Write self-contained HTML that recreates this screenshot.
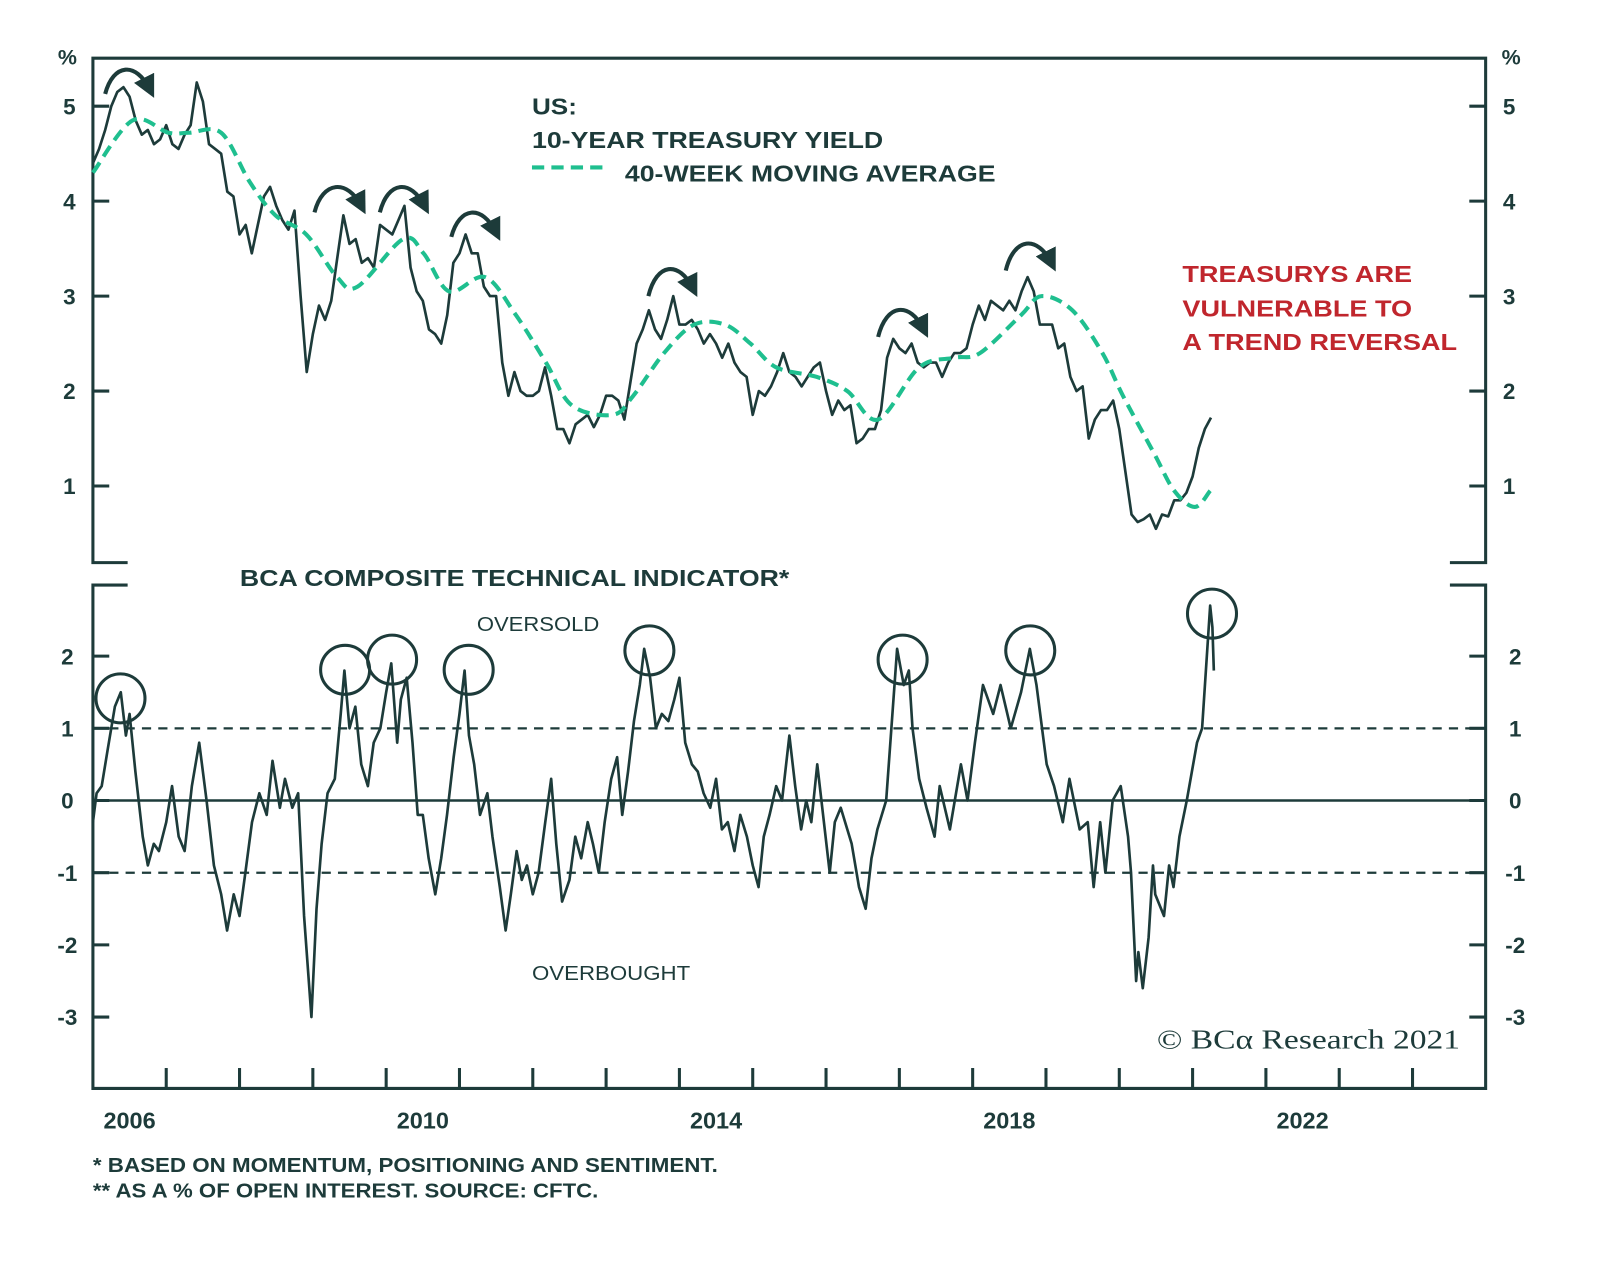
<!DOCTYPE html>
<html><head><meta charset="utf-8"><style>
html,body{margin:0;padding:0;background:#fff}
svg{display:block}
text{font-family:"Liberation Sans",Arial,sans-serif;fill:#1d3b3a}
</style></head><body>
<svg id="chart" width="1600" height="1261" viewBox="0 0 1567 1235" preserveAspectRatio="none" xmlns="http://www.w3.org/2000/svg">
<defs>
<marker id="ah" viewBox="0 0 10 10" refX="6" refY="5" markerWidth="5.5" markerHeight="5.5" orient="auto"><path d="M0,0 L10,5 L0,10 z" fill="#1d3b3a"/></marker>
</defs>
<rect width="1567" height="1235" fill="#fff"/>
<g id="frame" stroke="#1d3b3a" stroke-width="3" fill="none"></g>
<g id="ticks"></g>
<g id="marks"></g>
<g id="annot"></g>
<text x="521" y="112" font-size="23" font-weight="bold" textLength="44" lengthAdjust="spacingAndGlyphs">US:</text>
<text x="521" y="145" font-size="23" font-weight="bold" textLength="344" lengthAdjust="spacingAndGlyphs">10-YEAR TREASURY YIELD</text>
<line x1="521" y1="164" x2="592" y2="164" stroke="#1fbf8f" stroke-width="4" stroke-dasharray="12,7"/>
<text x="612" y="178" font-size="23" font-weight="bold" textLength="363" lengthAdjust="spacingAndGlyphs">40-WEEK MOVING AVERAGE</text>
<text x="1158" y="276" font-size="23" font-weight="bold" textLength="225" lengthAdjust="spacingAndGlyphs" style="fill:#c0262d">TREASURYS ARE</text>
<text x="1158" y="310" font-size="23" font-weight="bold" textLength="225" lengthAdjust="spacingAndGlyphs" style="fill:#c0262d">VULNERABLE TO</text>
<text x="1158" y="343" font-size="23" font-weight="bold" textLength="269" lengthAdjust="spacingAndGlyphs" style="fill:#c0262d">A TREND REVERSAL</text>
<text x="235" y="574" font-size="23" font-weight="bold" textLength="538" lengthAdjust="spacingAndGlyphs">BCA COMPOSITE TECHNICAL INDICATOR*</text>
<text x="467" y="618" font-size="20" textLength="120" lengthAdjust="spacingAndGlyphs">OVERSOLD</text>
<text x="521" y="960" font-size="20" textLength="155" lengthAdjust="spacingAndGlyphs">OVERBOUGHT</text>
<text x="1133" y="1027" font-size="27" textLength="297" lengthAdjust="spacingAndGlyphs" style="font-family:'Liberation Serif',serif">© BCα Research 2021</text>
<text x="91" y="1148" font-size="20" font-weight="bold" textLength="612" lengthAdjust="spacingAndGlyphs">*  BASED ON MOMENTUM, POSITIONING AND SENTIMENT.</text>
<text x="91" y="1173" font-size="20" font-weight="bold" textLength="495" lengthAdjust="spacingAndGlyphs">** AS A % OF OPEN INTEREST. SOURCE: CFTC.</text>
</svg>
<script>
const yieldStart = 2006;
const yieldValues = [
4.4,4.55,4.75,5.0,5.15,5.2,5.1,4.85,4.7,4.75,4.6,4.65,
4.8,4.6,4.55,4.7,4.8,5.25,5.05,4.6,4.55,4.5,4.1,4.05,
3.65,3.75,3.45,3.75,4.05,4.15,3.95,3.8,3.7,3.9,3.0,2.2,
2.6,2.9,2.75,2.95,3.4,3.85,3.55,3.6,3.35,3.4,3.3,3.75,
3.7,3.65,3.8,3.95,3.3,3.05,2.95,2.65,2.6,2.5,2.8,3.35,
3.45,3.65,3.45,3.45,3.1,3.0,3.0,2.3,1.95,2.2,2.0,1.95,
1.95,2.0,2.25,1.95,1.6,1.6,1.45,1.65,1.7,1.75,1.62,1.75,
1.95,1.95,1.9,1.7,2.1,2.5,2.65,2.85,2.65,2.55,2.75,3.0,
2.7,2.7,2.75,2.65,2.5,2.6,2.5,2.35,2.5,2.3,2.2,2.15,
1.75,2.0,1.95,2.05,2.2,2.4,2.2,2.15,2.05,2.15,2.25,2.3,
2.0,1.75,1.9,1.8,1.85,1.45,1.5,1.6,1.6,1.8,2.35,2.55,
2.45,2.4,2.5,2.3,2.25,2.3,2.3,2.15,2.3,2.4,2.4,2.45,
2.7,2.9,2.75,2.95,2.9,2.85,2.95,2.85,3.05,3.2,3.05,2.7,
2.7,2.7,2.45,2.5,2.15,2.0,2.05,1.5,1.7,1.8,1.8,1.9,
1.6,1.15,0.7,0.62,0.65,0.7,0.55,0.7,0.68,0.85,0.85,0.93,
1.1,1.4,1.6,1.72];
const maDates = [2006.0,2006.54,2007.03,2007.31,2007.75,2008.14,2008.49,2008.91,2009.33,2009.61,2010.23,2010.51,2010.86,2011.35,2011.77,2012.18,2012.53,2013.09,2013.37,2013.79,2014.2,2014.62,2014.97,2015.32,2015.87,2016.29,2016.71,2017.27,2017.75,2018.1,2018.66,2018.94,2019.36,2019.77,2020.05,2020.47,2020.75,2021.03,2021.24];
const maValues = [4.3,4.85,4.72,4.72,4.72,4.2,3.85,3.65,3.2,3.1,3.6,3.45,3.05,3.2,2.8,2.3,1.85,1.75,1.95,2.4,2.7,2.7,2.5,2.25,2.15,2.0,1.7,2.25,2.35,2.4,2.8,3.0,2.85,2.4,1.95,1.35,0.95,0.78,0.95];
const indDates = [2006.0,2006.05,2006.12,2006.2,2006.3,2006.38,2006.45,2006.5,2006.58,2006.68,2006.75,2006.83,2006.9,2007.0,2007.08,2007.17,2007.25,2007.35,2007.45,2007.55,2007.65,2007.75,2007.83,2007.92,2008.0,2008.08,2008.17,2008.27,2008.37,2008.45,2008.55,2008.62,2008.72,2008.8,2008.88,2008.98,2009.05,2009.12,2009.2,2009.3,2009.38,2009.43,2009.5,2009.58,2009.66,2009.75,2009.83,2009.92,2010.0,2010.07,2010.15,2010.2,2010.28,2010.36,2010.43,2010.5,2010.58,2010.67,2010.75,2010.83,2010.92,2011.0,2011.07,2011.13,2011.2,2011.28,2011.38,2011.45,2011.55,2011.63,2011.7,2011.78,2011.85,2011.92,2012.0,2012.08,2012.17,2012.25,2012.32,2012.4,2012.5,2012.58,2012.66,2012.75,2012.82,2012.9,2012.98,2013.07,2013.15,2013.22,2013.3,2013.38,2013.46,2013.52,2013.6,2013.68,2013.76,2013.85,2013.93,2014.0,2014.08,2014.17,2014.25,2014.33,2014.42,2014.5,2014.58,2014.66,2014.75,2014.83,2014.92,2015.0,2015.08,2015.15,2015.23,2015.32,2015.4,2015.5,2015.58,2015.66,2015.73,2015.8,2015.88,2015.96,2016.05,2016.12,2016.2,2016.35,2016.45,2016.54,2016.62,2016.7,2016.82,2016.97,2017.06,2017.13,2017.18,2017.27,2017.37,2017.48,2017.55,2017.69,2017.84,2017.93,2018.03,2018.14,2018.28,2018.38,2018.52,2018.66,2018.78,2018.87,2019.01,2019.11,2019.23,2019.32,2019.46,2019.57,2019.65,2019.74,2019.81,2019.91,2020.02,2020.12,2020.16,2020.23,2020.26,2020.32,2020.4,2020.46,2020.49,2020.61,2020.68,2020.74,2020.82,2020.92,2020.99,2021.06,2021.13,2021.24,2021.27,2021.29];
const indValues = [-0.3,0.1,0.2,0.7,1.3,1.5,0.9,1.2,0.4,-0.5,-0.9,-0.6,-0.7,-0.3,0.2,-0.5,-0.7,0.2,0.8,0.0,-0.9,-1.3,-1.8,-1.3,-1.6,-1.0,-0.3,0.1,-0.2,0.55,-0.1,0.3,-0.1,0.1,-1.6,-3.0,-1.5,-0.6,0.1,0.3,1.2,1.8,1.0,1.3,0.5,0.2,0.8,1.0,1.5,1.9,0.8,1.4,1.7,0.8,-0.2,-0.2,-0.8,-1.3,-0.8,-0.2,0.6,1.2,1.8,0.9,0.5,-0.2,0.1,-0.5,-1.2,-1.8,-1.3,-0.7,-1.1,-0.9,-1.3,-1.0,-0.3,0.3,-0.6,-1.4,-1.1,-0.5,-0.8,-0.3,-0.6,-1.0,-0.3,0.3,0.6,-0.2,0.4,1.1,1.6,2.1,1.7,1.0,1.2,1.1,1.4,1.7,0.8,0.5,0.4,0.1,-0.1,0.3,-0.4,-0.3,-0.7,-0.2,-0.5,-0.9,-1.2,-0.5,-0.2,0.2,0.0,0.9,0.2,-0.4,0.0,-0.3,0.5,-0.2,-1.0,-0.3,-0.1,-0.6,-1.2,-1.5,-0.8,-0.4,0.0,2.1,1.6,1.8,1.0,0.3,-0.1,-0.5,0.2,-0.4,0.5,0.0,0.8,1.6,1.2,1.6,1.0,1.5,2.1,1.6,0.5,0.2,-0.3,0.3,-0.4,-0.3,-1.2,-0.3,-1.0,0.0,0.2,-0.5,-1.0,-2.5,-2.1,-2.6,-1.9,-0.9,-1.3,-1.6,-0.9,-1.2,-0.5,0.0,0.4,0.8,1.0,2.7,2.4,1.8];
const topTicks = [1,2,3,4,5];
const botTicks = [-3,-2,-1,0,1,2];
const yearLabels = [2006,2010,2014,2018,2022];

const NS='http://www.w3.org/2000/svg';
const xS = t => 91 + (t - 2006) * 71.8;
const yT = v => 104 + (5 - v) * 93;
const yB = v => 784 - v * 70.7;
function mk(tag, attrs, parent){const e=document.createElementNS(NS,tag);for(const k in attrs)e.setAttribute(k,attrs[k]);parent.appendChild(e);return e;}
const frame=document.getElementById('frame'), ticks=document.getElementById('ticks'), marks=document.getElementById('marks'), annot=document.getElementById('annot');

let fp = mk('path',{d:'M125,551 H91 V57 H1455 V551 H1420 M125,573 H91 V1066 H1455 V573 H1420'},frame);



topTicks.forEach(v=>{
  const y=yT(v);
  let l=mk('path',{d:`M91,${y} H107 M1439,${y} H1455`,stroke:'#1d3b3a','stroke-width':3},ticks);
  
  
  let a=mk('text',{x:68,y:y+8,'font-size':22,'font-weight':'bold','text-anchor':'middle'},ticks); a.textContent=v;
  
  
  let b=mk('text',{x:1478,y:y+8,'font-size':22,'font-weight':'bold','text-anchor':'middle'},ticks); b.textContent=v;
  
  
});
['66','1480'].forEach(x=>{let p=mk('text',{x:x,y:63,'font-size':21,'font-weight':'bold','text-anchor':'middle'},ticks);p.textContent='%';
  
  });
botTicks.forEach(v=>{
  const y=yB(v);
  let l=mk('path',{d:`M91,${y} H107 M1439,${y} H1455`,stroke:'#1d3b3a','stroke-width':3},ticks);
  
  
  let a=mk('text',{x:66,y:y+8,'font-size':22,'font-weight':'bold','text-anchor':'middle'},ticks); a.textContent=v;
  
  
  let b=mk('text',{x:1484,y:y+8,'font-size':22,'font-weight':'bold','text-anchor':'middle'},ticks); b.textContent=v;
  
  
});
for(let yr=2007; yr<=2024; yr++){
  let l=mk('line',{x1:xS(yr),x2:xS(yr),y1:1046,y2:1066,stroke:'#1d3b3a','stroke-width':3},ticks);
  
  
}
yearLabels.forEach(yr=>{let t=mk('text',{x:xS(yr+0.5),y:1105,'font-size':23,'font-weight':'bold','text-anchor':'middle'},ticks);t.textContent=yr;
  
  });

[[0,'none',2.5],[1,'9,7',2.2],[-1,'9,7',2.2]].forEach(([v,d,w])=>{
  let l=mk('line',{x1:91,x2:1455,y1:yB(v),y2:yB(v),stroke:'#1d3b3a','stroke-width':w,'stroke-dasharray':d},marks);
  
  
});

let d=yieldValues.map((v,i)=>(i?'L':'M')+xS(yieldStart+i/12).toFixed(1)+','+yT(v).toFixed(1)).join(' ');
let yl=mk('path',{d:d,fill:'none',stroke:'#1d3b3a','stroke-width':2.6,'stroke-linejoin':'round'},marks);



const pts=maDates.map((t,i)=>[xS(t),yT(maValues[i])]);
let md='M'+pts[0][0]+','+pts[0][1];
for(let i=0;i<pts.length-1;i++){
  const p0=pts[Math.max(0,i-1)],p1=pts[i],p2=pts[i+1],p3=pts[Math.min(pts.length-1,i+2)];
  const c1=[p1[0]+(p2[0]-p0[0])/6,p1[1]+(p2[1]-p0[1])/6],c2=[p2[0]-(p3[0]-p1[0])/6,p2[1]-(p3[1]-p1[1])/6];
  md+=` C${c1[0].toFixed(1)},${c1[1].toFixed(1)} ${c2[0].toFixed(1)},${c2[1].toFixed(1)} ${p2[0].toFixed(1)},${p2[1].toFixed(1)}`;
}
let ma=mk('path',{d:md,fill:'none',stroke:'#1fbf8f','stroke-width':4,'stroke-dasharray':'12,7'},marks);



let id=indDates.map((t,i)=>(i?'L':'M')+xS(t).toFixed(1)+','+yB(indValues[i]).toFixed(1)).join(' ');
let il=mk('path',{d:id,fill:'none',stroke:'#1d3b3a','stroke-width':2.6,'stroke-linejoin':'round'},marks);



[[118,684],[338,656],[384,646],[459,656],[636,637],[884,646],[1009,637],[1187,601]].forEach(([x,y])=>{
  let c=mk('circle',{cx:x,cy:y,r:24,fill:'none',stroke:'#1d3b3a','stroke-width':3},annot);
  
  
});
[[103,92,70,155,98],[308,208,185,362,212],[372,208,185,424,212],[442,232,210,494,238],[635,290,265,687,293],[860,330,305,913,333],[985,265,240,1038,268]].forEach(([x1,y1,yt,x2,y2])=>{
  let a=mk('path',{d:`M${x1},${y1} C${x1+8},${yt-8} ${x2-22},${yt-10} ${x2-8},${y2-10}`,fill:'none',stroke:'#1d3b3a','stroke-width':4,'marker-end':'url(#ah)'},annot);
  
  
});
</script>
</body></html>
